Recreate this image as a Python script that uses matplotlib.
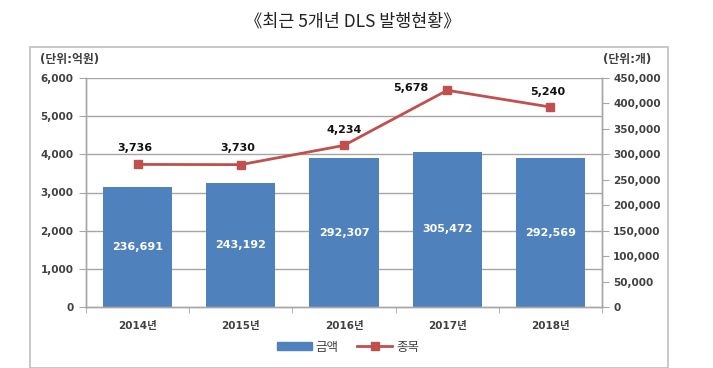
import numpy as np
import matplotlib.pyplot as plt
from matplotlib.patches import Rectangle
from matplotlib.lines import Line2D
from matplotlib.ticker import FuncFormatter, MultipleLocator

plt.rcParams['font.family'] = ['DejaVu Sans', 'Noto Sans CJK KR']

years = ['2014년', '2015년', '2016년', '2017년', '2018년']
amount = [236691, 243192, 292307, 305472, 292569]   # 금액 (bars, right axis)
issues = [3736, 3730, 4234, 5678, 5240]             # 종목 (line, left axis)
# label offsets for the line values (points)
lab_dx = [-2, -2, 0, -26, -2]
lab_dy = [12, 12, 11, 2, 11]

BLUE = '#4F81BD'
RED = '#C0504D'
GRID = '#A6A6A6'
TXT = '#404040'

W, H = 713, 368
fig = plt.figure(figsize=(W / 100, H / 100), dpi=100)

# outer chart frame
fig.patches.append(Rectangle((30 / W, 0.5 / H), 638 / W, (H - 47) / H,
                             transform=fig.transFigure, fill=False,
                             ec='#BFBFBF', lw=1.2))

fig.text(353 / W, 1 - 22 / H, '《최근 5개년 DLS 발행현황》', ha='center', va='center',
         fontsize=12.5, color='#222222', family=['Noto Sans CJK KR'])

ax = fig.add_axes([86 / W, (H - 307) / H, 516 / W, 229 / H])
ax2 = ax.twinx()
ax.set_zorder(2)
ax.patch.set_visible(False)
ax2.set_zorder(1)

x = np.arange(len(years))
lmax, rmax = 6000, 450000

# gridlines behind the bars
for v in np.arange(1000, lmax + 1, 1000):
    ax2.axhline(v * rmax / lmax, color=GRID, lw=1, zorder=0)

bars = ax2.bar(x, amount, width=0.67, color=BLUE, zorder=2)
for xi, v in zip(x, amount):
    ax2.text(xi, v / 2, f'{v:,}', ha='center', va='center', color='white',
             fontsize=8, fontweight='bold', zorder=3)

ax.plot(x, issues, color=RED, lw=2, marker='s', markersize=6, zorder=4)
for xi, v, dx, dy in zip(x, issues, lab_dx, lab_dy):
    ax.annotate(f'{v:,}', (xi, v), xytext=(dx, dy), textcoords='offset points',
                ha='center', va='center', fontsize=8, fontweight='bold', color='#111111')

ax.set_xlim(-0.5, len(years) - 0.5)
ax.set_ylim(0, lmax)
ax2.set_ylim(0, rmax)
ax.yaxis.set_major_locator(MultipleLocator(1000))
ax2.yaxis.set_major_locator(MultipleLocator(50000))
fmt = FuncFormatter(lambda v, p: f'{int(v):,}')
ax.yaxis.set_major_formatter(fmt)
ax2.yaxis.set_major_formatter(fmt)

ax.set_xticks(x)
ax.set_xticklabels(years)
ax.set_xticks(np.arange(-0.5, len(years)), minor=True)
ax.tick_params(axis='x', which='major', length=0, pad=10, labelsize=7.5,
               labelcolor=TXT)
ax.tick_params(axis='x', which='minor', length=4, color=GRID, direction='out')
ax.tick_params(axis='y', length=5, color=GRID, labelsize=7.5, labelcolor=TXT, pad=4)
ax2.tick_params(axis='y', length=5, color=GRID, labelsize=7.5, labelcolor=TXT, pad=3)
for t in ax.get_xticklabels() + ax.get_yticklabels() + ax2.get_yticklabels():
    t.set_fontweight('bold')

for a in (ax, ax2):
    a.spines['top'].set_visible(False)
    for s in ('left', 'right', 'bottom'):
        a.spines[s].set_color(GRID)
        a.spines[s].set_linewidth(1)

fig.text(40 / W, 1 - 60 / H, '(단위:억원)', ha='left', va='center', fontsize=8.5,
         fontweight='bold', color=TXT)
fig.text(651 / W, 1 - 60 / H, '(단위:개)', ha='right', va='center', fontsize=8.5,
         fontweight='bold', color=TXT)

handles = [Rectangle((0, 0), 1, 1, color=BLUE),
           Line2D([], [], color=RED, lw=2, marker='s', markersize=6)]
fig.legend(handles, ['금액', '종목'], loc='center', bbox_to_anchor=(348 / W, 1 - 347 / H),
           ncol=2, frameon=False, fontsize=9, handlelength=2.8, handleheight=0.55,
           columnspacing=1.5, handletextpad=0.3, labelcolor=TXT)

fig.savefig('out.png', dpi=100)
